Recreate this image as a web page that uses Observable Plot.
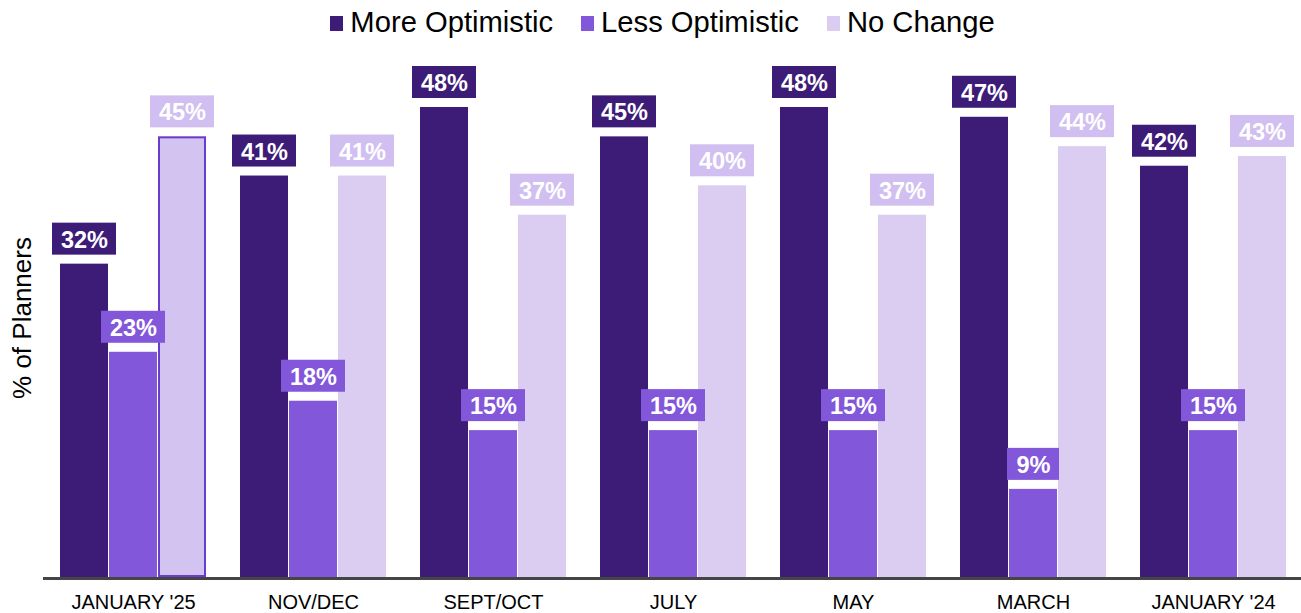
<!DOCTYPE html>
<html>
<head>
<meta charset="utf-8">
<script src="https://cdn.jsdelivr.net/npm/d3@7"></script>
<script src="https://cdn.jsdelivr.net/npm/@observablehq/plot@0.6"></script>
<style>
  html, body { margin: 0; padding: 0; background: #fff; }
  #wrap { position: relative; width: 1301px; height: 613px; font-family: "Liberation Sans", Arial, sans-serif; }
  #legend { position: absolute; left: 0; top: 0; width: 1301px; height: 44px; box-sizing: border-box; padding-left: 24px; display: flex; justify-content: center; align-items: center; font-size: 29.2px; color: #000; }
  #legend .item { display: flex; align-items: center; margin: 0 14px; }
  #legend .sw { width: 13px; height: 15px; margin-right: 7px; margin-top: 3px; }
  #ylabel { position: absolute; left: 22px; top: 318px; transform: translate(-50%, -50%) rotate(-90deg); font-size: 26px; white-space: nowrap; color: #000; }
  #chart { position: absolute; left: 0; top: 45px; }
</style>
</head>
<body>
<div id="wrap">
  <div id="legend"></div>
  <div id="ylabel">% of Planners</div>
  <div id="chart"></div>
</div>
<script>
const periods = ["JANUARY '25", "NOV/DEC", "SEPT/OCT", "JULY", "MAY", "MARCH", "JANUARY '24"];
const seriesNames = ["More Optimistic", "Less Optimistic", "No Change"];
const moreOptimistic = [32, 41, 48, 45, 48, 47, 42];
const lessOptimistic = [23, 18, 15, 15, 15, 9, 15];
const noChange = [45, 41, 37, 40, 37, 44, 43];

const barColors = ["#3d1c78", "#8257d9", "#dacdf1"];
const boxColors = ["#3d1c78", "#8257d9", "#d0bff0"];

const seriesValues = [moreOptimistic, lessOptimistic, noChange];
const rows = [];
periods.forEach((p, i) => {
  seriesNames.forEach((s, j) => {
    rows.push({period: p, series: s, value: seriesValues[j][i], box: boxColors[j]});
  });
});

// legend
const legend = document.getElementById("legend");
seriesNames.forEach((s, j) => {
  const it = document.createElement("div");
  it.className = "item";
  const sw = document.createElement("div");
  sw.className = "sw";
  sw.style.background = barColors[j];
  const t = document.createElement("span");
  t.textContent = s;
  it.appendChild(sw); it.appendChild(t);
  legend.appendChild(it);
});

const highlighted = rows.filter(d => d.period === periods[0] && d.series === "No Change");
const wide = rows.filter(d => d.value >= 10);
const narrow = rows.filter(d => d.value < 10);

const plot = Plot.plot({
  width: 1301,
  height: 568,
  marginLeft: 59,
  marginRight: 14,
  marginTop: 42.4,
  marginBottom: 36,
  style: {fontFamily: "'Liberation Sans', Arial, sans-serif", fontSize: "20px", background: "transparent", color: "#000"},
  fx: {domain: periods, paddingInner: 0.18, paddingOuter: 0, label: null, axis: "bottom", tickSize: 0, tickPadding: 17},
  x: {domain: seriesNames, padding: 0.02, axis: null},
  y: {domain: [0, 50], axis: null},
  color: {domain: seriesNames, range: barColors},
  marks: [
    Plot.barY(rows, {fx: "period", x: "series", y: "value", fill: "series"}),
    Plot.barY(highlighted, {fx: "period", x: "series", y: "value", fill: "#d3c3f0", stroke: "#6a3ccc", strokeWidth: 2, inset: 1}),
    Plot.barY(wide, {fx: "period", x: "series", y1: "value", y2: "value", fill: "box", insetTop: -41, insetBottom: 9, insetLeft: -8, insetRight: -8}),
    Plot.barY(narrow, {fx: "period", x: "series", y1: "value", y2: "value", fill: "box", insetTop: -41, insetBottom: 9, insetLeft: -2, insetRight: -2}),
    Plot.text(rows, {fx: "period", x: "series", y: "value", text: d => d.value + "%", dy: -24, fill: "white", fontWeight: "bold", fontSize: 23.5})
  ]
});

document.getElementById("chart").appendChild(plot);

// baseline
const y0 = plot.scale("y").apply(0);
d3.select(plot).append("line")
  .attr("x1", 43).attr("x2", 1301)
  .attr("y1", y0 + 1.5).attr("y2", y0 + 1.5)
  .attr("stroke", "#454545").attr("stroke-width", 3);
</script>
</body>
</html>
